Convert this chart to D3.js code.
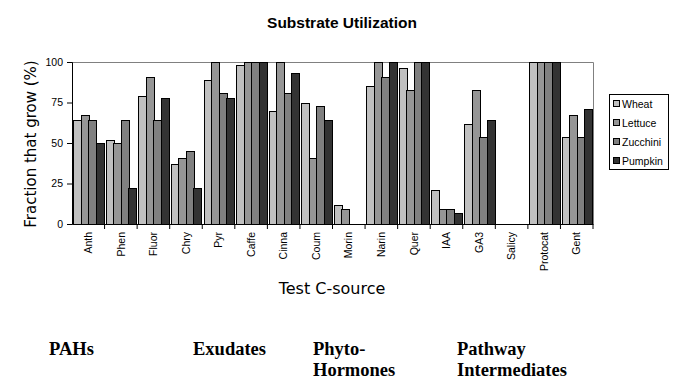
<!DOCTYPE html>
<html>
<head>
<meta charset="utf-8">
<script src="https://cdn.jsdelivr.net/npm/d3@7"></script>
<style>
  body { margin: 0; background: #fff; }
</style>
</head>
<body>
<div id="chart"></div>
<script>
// categories and series
const categories = ["Anth", "Phen", "Fluor", "Chry", "Pyr", "Caffe", "Cinna", "Coum",
  "Morin", "Narin", "Quer", "IAA", "GA3", "Salicy", "Protocat", "Gent"];
const seriesNames = ["Wheat", "Lettuce", "Zucchini", "Pumpkin"];
const wheat    = [64, 52, 79, 37, 89, 98, 70, 75, 12, 85, 96, 21, 62, 0, 100, 54];
const lettuce  = [67, 50, 91, 41, 100, 100, 100, 41, 9, 100, 83, 9, 83, 0, 100, 67];
const zucchini = [64, 64, 64, 45, 81, 100, 81, 73, 0, 91, 100, 9, 54, 0, 100, 54];
const pumpkin  = [50, 22, 78, 22, 78, 100, 93, 64, 0, 100, 100, 7, 64, 0, 100, 71];
const yTicks = [0, 25, 50, 75, 100];
const groups = [
  { lines: ["PAHs"], x: 49 },
  { lines: ["Exudates"], x: 193 },
  { lines: ["Phyto-", "Hormones"], x: 313 },
  { lines: ["Pathway", "Intermediates"], x: 457 }
];

const seriesData = [wheat, lettuce, zucchini, pumpkin];
const colors = ["#c0c0c0", "#969696", "#808080", "#333333"];

const width = 678, height = 388;
const mLeft = 72, mRight = 593, mTop = 62, mBottom = 224;
const uiFont = "'DejaVu Sans', Verdana, sans-serif";
const smallFont = "'Liberation Sans', Arial, sans-serif";

const svg = d3.select("#chart").append("svg")
  .attr("width", width).attr("height", height)
  .style("font-family", uiFont);

const x = d3.scaleBand().domain(categories).range([mLeft, mRight]).paddingInner(0);
const xs = d3.scaleBand().domain(seriesNames).range([0, x.bandwidth()])
  .paddingInner(0).paddingOuter(0.17);
const y = d3.scaleLinear().domain([0, 100]).range([mBottom, mTop]);

// plot border (top and right, gray)
svg.append("path")
  .attr("d", `M${mLeft},${mTop + 0.5}H${mRight + 0.5}V${mBottom}`)
  .attr("fill", "none").attr("stroke", "#808080");

// bars
seriesNames.forEach((name, si) => {
  const vals = categories.map((c, i) => ({ c: c, v: seriesData[si][i] }))
    .filter(d => d.v > 0);
  svg.append("g")
    .selectAll("rect")
    .data(vals)
    .join("rect")
    .attr("x", d => Math.round(x(d.c) + xs(name)) + 0.5)
    .attr("y", d => Math.round(y(d.v)) + 0.5)
    .attr("width", Math.round(xs.bandwidth()))
    .attr("height", d => Math.round(y(0)) - Math.round(y(d.v)))
    .attr("fill", colors[si])
    .attr("stroke", "#000")
    .attr("stroke-width", 1);
});

// y axis
const yAxis = svg.append("g")
  .attr("transform", `translate(${mLeft},0)`)
  .call(d3.axisLeft(y).tickValues(yTicks).tickSize(5).tickPadding(4));
yAxis.select(".domain").attr("stroke", "#000");
yAxis.selectAll("text").attr("font-size", 10.5).attr("font-family", smallFont);

// x axis: ticks between categories
const xAxis = svg.append("g")
  .attr("transform", `translate(0,${mBottom})`)
  .call(d3.axisBottom(x).tickSize(0).tickSizeOuter(0));
xAxis.select(".domain").attr("stroke", "#000");
xAxis.selectAll("text")
  .attr("font-size", 10.5)
  .attr("font-family", smallFont)
  .attr("transform", "rotate(-90)")
  .attr("text-anchor", "end")
  .attr("x", -8)
  .attr("y", 0)
  .attr("dy", "0.35em");
svg.append("g").selectAll("line")
  .data(categories.slice(1).concat(["_end"]))
  .join("line")
  .attr("x1", d => d === "_end" ? mRight : x(d))
  .attr("x2", d => d === "_end" ? mRight : x(d))
  .attr("y1", mBottom).attr("y2", mBottom + 5)
  .attr("stroke", "#000");

// title
svg.append("text")
  .attr("x", 342).attr("y", 28)
  .attr("text-anchor", "middle")
  .attr("font-family", "Arial, 'Liberation Sans', sans-serif")
  .attr("font-weight", "bold")
  .attr("font-size", 15.5)
  .text("Substrate Utilization");

// axis titles
svg.append("text")
  .attr("transform", `translate(36,${144}) rotate(-90)`)
  .attr("text-anchor", "middle")
  .attr("font-size", 15)
  .text("Fraction that grow (%)");

svg.append("text")
  .attr("x", 332).attr("y", 294)
  .attr("text-anchor", "middle")
  .attr("font-size", 16)
  .text("Test C-source");

// legend
const legend = svg.append("g").attr("transform", "translate(609,94)");
legend.append("rect")
  .attr("x", 0.5).attr("y", 0.5).attr("width", 59).attr("height", 75)
  .attr("fill", "#fff").attr("stroke", "#000");
seriesNames.forEach((name, i) => {
  const row = legend.append("g").attr("transform", `translate(4,${10 + i * 19})`);
  row.append("rect")
    .attr("x", 0.5).attr("y", -3.5).attr("width", 6).attr("height", 6)
    .attr("fill", colors[i]).attr("stroke", "#000");
  row.append("text")
    .attr("x", 9).attr("y", 0).attr("dy", "0.35em")
    .attr("font-family", smallFont)
    .attr("font-size", 10.5)
    .text(name);
});

// group labels under the chart
groups.forEach(g => {
  const t = svg.append("text")
    .attr("font-family", "'Liberation Serif', 'Times New Roman', serif")
    .attr("font-weight", "bold")
    .attr("font-size", 18.5);
  g.lines.forEach((line, i) => {
    t.append("tspan").attr("x", g.x).attr("y", 355 + i * 21).text(line);
  });
});
</script>
</body>
</html>
